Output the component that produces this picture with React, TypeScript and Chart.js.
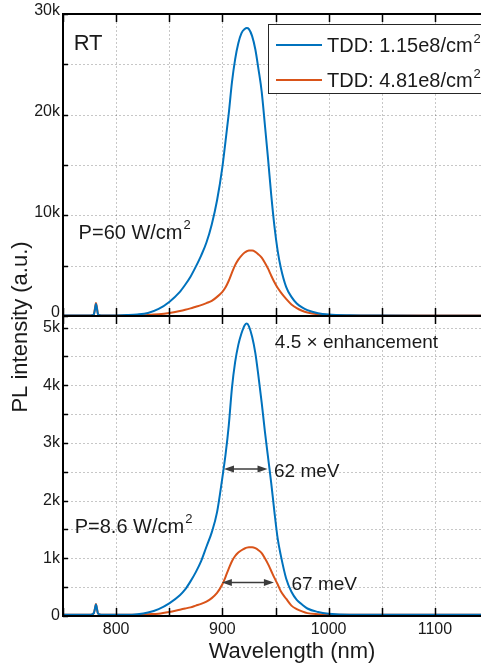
import React, { useEffect, useRef } from 'react';
import { Chart, registerables } from 'chart.js';

Chart.register(...registerables);

// ---------- data (intensity in thousands of counts) ----------
const wavelength = [
  750, 760, 770, 776, 779, 780, 781, 782, 783, 786,
  790, 800, 810, 820, 830, 840, 850, 860, 865, 870,
  875, 880, 885, 890, 895, 900, 903, 906, 909, 912,
  915, 918, 921, 923, 925, 928, 931, 934, 937, 940,
  943, 946, 949, 952, 955, 960, 965, 970, 975, 980,
  990, 1000, 1020, 1050, 1100, 1150,
];

// Top panel, P = 60 W/cm^2
const topBlue = [
  0.04, 0.04, 0.04, 0.04, 0.15, 0.6, 1.2, 0.7, 0.15, 0.05,
  0.05, 0.06, 0.09, 0.15, 0.3, 0.7, 1.4, 2.4, 3.1, 3.9,
  4.9, 6.0, 7.3, 9.1, 11.5, 14.8, 17.4, 20.1, 23.2, 25.5,
  27.1, 28.1, 28.5, 28.6, 28.5, 27.8, 26.5, 24.5, 22.3, 19.0,
  15.6, 12.0, 8.9, 6.5, 4.8, 2.9, 1.9, 1.25, 0.85, 0.58,
  0.28, 0.15, 0.07, 0.04, 0.03, 0.03,
];
const topOrange = [
  0.04, 0.04, 0.04, 0.05, 0.15, 0.7, 1.3, 0.8, 0.15, 0.05,
  0.04, 0.04, 0.05, 0.07, 0.1, 0.17, 0.3, 0.5, 0.62, 0.76,
  0.92, 1.08, 1.28, 1.5, 1.9, 2.4, 2.85, 3.5, 4.3, 5.05,
  5.6, 6.0, 6.3, 6.43, 6.5, 6.5, 6.38, 6.12, 5.8, 5.3,
  4.7, 4.0, 3.35, 2.8, 2.35, 1.7, 1.15, 0.78, 0.52, 0.35,
  0.17, 0.1, 0.05, 0.04, 0.04, 0.04,
];

// Bottom panel, P = 8.6 W/cm^2
const bottomBlue = [
  0.02, 0.02, 0.02, 0.02, 0.05, 0.12, 0.2, 0.12, 0.04, 0.02,
  0.02, 0.02, 0.02, 0.03, 0.06, 0.12, 0.22, 0.36, 0.46, 0.6,
  0.76, 0.95, 1.2, 1.45, 1.8, 2.4, 2.8, 3.3, 3.95, 4.4,
  4.7, 4.9, 5.04, 5.07, 5.02, 4.84, 4.56, 4.15, 3.7, 3.2,
  2.75, 2.3, 1.8, 1.35, 1.05, 0.65, 0.42, 0.28, 0.2, 0.13,
  0.07, 0.04, 0.02, 0.02, 0.02, 0.02,
];
const bottomOrange = [
  0.02, 0.02, 0.02, 0.02, 0.05, 0.12, 0.21, 0.12, 0.04, 0.02,
  0.02, 0.02, 0.02, 0.02, 0.03, 0.04, 0.07, 0.11, 0.13, 0.15,
  0.18, 0.21, 0.25, 0.31, 0.4, 0.55, 0.68, 0.82, 0.95, 1.04,
  1.1, 1.14, 1.17, 1.185, 1.19, 1.19, 1.175, 1.14, 1.09, 1.0,
  0.9, 0.78, 0.66, 0.55, 0.43, 0.3, 0.18, 0.12, 0.08, 0.05,
  0.03, 0.02, 0.02, 0.02, 0.02, 0.02,
];

const seriesLabels = ['TDD: 1.15e8/cm', 'TDD: 4.81e8/cm'];
const xTickLabels = [800, 900, 1000, 1100];
const topTickLabels = [0, 10, 20, 30];
const bottomTickLabels = [0, 1, 2, 3, 4, 5];

// FWHM markers (nm) and their heights (k) in the bottom panel
const fwhmBlue = [901.5, 942.5, 2.55];
const fwhmOrange = [899.5, 948.5, 0.58];

const BLUE = '#0072BD';
const ORANGE = '#D95319';
const TEXT = '#1a1a1a';
const FONT = '"Liberation Sans", Arial, Helvetica, sans-serif';

const pts = (ys: number[]) => wavelength.map((x, i) => ({ x, y: ys[i] }));

function textSup(ctx: CanvasRenderingContext2D, x: number, yc: number, main: string, sup: string, size: number) {
  ctx.font = `${size}px ${FONT}`;
  ctx.textAlign = 'left';
  ctx.textBaseline = 'alphabetic';
  const base = yc + 0.36 * size;
  ctx.fillText(main, x, base);
  if (sup) {
    const w = ctx.measureText(main).width;
    ctx.font = `${Math.round(size * 0.65)}px ${FONT}`;
    ctx.fillText(sup, x + w + 1, base - size * 0.47);
  }
}

function arrow(ctx: CanvasRenderingContext2D, x1: number, x2: number, y: number) {
  ctx.save();
  ctx.strokeStyle = '#3c3c3c';
  ctx.fillStyle = '#3c3c3c';
  ctx.lineWidth = 1.5;
  ctx.beginPath();
  ctx.moveTo(x1 + 4, y);
  ctx.lineTo(x2 - 4, y);
  ctx.stroke();
  ctx.beginPath();
  ctx.moveTo(x1, y);
  ctx.lineTo(x1 + 10, y - 3.5);
  ctx.lineTo(x1 + 10, y + 3.5);
  ctx.closePath();
  ctx.moveTo(x2, y);
  ctx.lineTo(x2 - 10, y - 3.5);
  ctx.lineTo(x2 - 10, y + 3.5);
  ctx.closePath();
  ctx.fill();
  ctx.restore();
}

const decor = {
  id: 'decor',
  beforeDatasetsDraw(chart: any) {
    const { ctx, chartArea: ca, scales } = chart;
    const xs = scales.x, yT = scales.yT, yB = scales.yB;
    ctx.save();
    ctx.strokeStyle = 'rgba(0,0,0,0.22)';
    ctx.lineWidth = 1;
    ctx.setLineDash([2, 2]);
    ctx.beginPath();
    for (const t of xs.ticks) {
      const px = Math.round(xs.getPixelForValue(t.value)) + 0.5;
      ctx.moveTo(px, ca.top);
      ctx.lineTo(px, ca.bottom);
    }
    for (const s of [yT, yB]) {
      for (const t of s.ticks) {
        const py = Math.round(s.getPixelForValue(t.value)) + 0.5;
        ctx.moveTo(ca.left, py);
        ctx.lineTo(ca.right, py);
      }
    }
    ctx.stroke();
    ctx.restore();
  },
  afterDraw(chart: any) {
    const { ctx, chartArea: ca, scales } = chart;
    const xs = scales.x, yT = scales.yT, yB = scales.yB;
    ctx.save();

    // inward tick marks
    ctx.strokeStyle = '#000';
    ctx.lineWidth = 1.5;
    ctx.beginPath();
    for (const t of xs.ticks) {
      const px = Math.round(xs.getPixelForValue(t.value)) + 0.5;
      const edges: [number, number][] = [[yT.top, 1], [yT.bottom, -1], [yB.top, 1], [yB.bottom, -1]];
      for (const [y0, d] of edges) {
        ctx.moveTo(px, y0);
        ctx.lineTo(px, y0 + d * 8);
      }
    }
    for (const s of [yT, yB]) {
      for (const t of s.ticks) {
        const py = Math.round(s.getPixelForValue(t.value)) + 0.5;
        ctx.moveTo(ca.left, py);
        ctx.lineTo(ca.left + 5, py);
        ctx.moveTo(ca.right, py);
        ctx.lineTo(ca.right - 5, py);
      }
    }
    ctx.stroke();

    // frames
    ctx.lineWidth = 2;
    ctx.beginPath();
    for (const y of [yT.top, yT.bottom, yB.bottom]) {
      ctx.moveTo(ca.left - 1, y);
      ctx.lineTo(ca.right + 1, y);
    }
    ctx.moveTo(ca.left, yT.top);
    ctx.lineTo(ca.left, yB.bottom);
    ctx.moveTo(ca.right, yT.top);
    ctx.lineTo(ca.right, yB.bottom);
    ctx.stroke();

    // annotations
    ctx.fillStyle = TEXT;
    textSup(ctx, xs.getPixelForValue(760), yT.getPixelForValue(27.2), 'RT', '', 22);
    textSup(ctx, xs.getPixelForValue(764.7), yT.getPixelForValue(8.4), 'P=60 W/cm', '2', 20);
    textSup(ctx, xs.getPixelForValue(761), yB.getPixelForValue(1.57), 'P=8.6 W/cm', '2', 20);
    textSup(ctx, xs.getPixelForValue(949.4), yB.getPixelForValue(4.77), '4.5 \u00d7 enhancement', '', 19);

    arrow(ctx, xs.getPixelForValue(fwhmBlue[0]), xs.getPixelForValue(fwhmBlue[1]), yB.getPixelForValue(fwhmBlue[2]));
    arrow(ctx, xs.getPixelForValue(fwhmOrange[0]), xs.getPixelForValue(fwhmOrange[1]), yB.getPixelForValue(fwhmOrange[2]));
    ctx.fillStyle = TEXT;
    textSup(ctx, xs.getPixelForValue(948.6), yB.getPixelForValue(2.52), '62 meV', '', 19);
    textSup(ctx, xs.getPixelForValue(965.1), yB.getPixelForValue(0.57), '67 meV', '', 19);

    // legend
    const lx = ca.left + 205, ly = yT.top + 10;
    ctx.fillStyle = '#fff';
    ctx.fillRect(lx, ly, 240, 69);
    ctx.strokeStyle = '#262626';
    ctx.lineWidth = 1;
    ctx.strokeRect(lx + 0.5, ly + 0.5, 240, 69);
    const colors = [BLUE, ORANGE];
    seriesLabels.forEach((lab, i) => {
      const yc = ly + 21 + i * 35;
      ctx.strokeStyle = colors[i];
      ctx.lineWidth = 2;
      ctx.beginPath();
      ctx.moveTo(lx + 8, yc);
      ctx.lineTo(lx + 54, yc);
      ctx.stroke();
      ctx.fillStyle = TEXT;
      textSup(ctx, lx + 59, yc, lab, '2', 20);
    });

    // axis titles
    ctx.fillStyle = TEXT;
    ctx.font = `22px ${FONT}`;
    ctx.textAlign = 'center';
    ctx.textBaseline = 'middle';
    ctx.fillText('Wavelength (nm)', 292, 652);
    ctx.save();
    ctx.translate(21, 327);
    ctx.rotate(-Math.PI / 2);
    ctx.fillText('PL intensity (a.u.)', 0, 0);
    ctx.restore();

    ctx.restore();
  },
};

const isInt = (v: number, list: number[]) => list.some((n) => Math.abs(n - v) < 1e-6);

export default function App() {
  const ref = useRef<HTMLCanvasElement | null>(null);

  useEffect(() => {
    if (!ref.current) return;
    const gridCommon = { display: false, drawTicks: false };
    const chart = new Chart(ref.current, {
      type: 'line',
      data: {
        datasets: [
          { label: seriesLabels[0] + '2 (60)', data: pts(topBlue), yAxisID: 'yT', borderColor: BLUE },
          { label: seriesLabels[1] + '2 (60)', data: pts(topOrange), yAxisID: 'yT', borderColor: ORANGE },
          { label: seriesLabels[0] + '2 (8.6)', data: pts(bottomBlue), yAxisID: 'yB', borderColor: BLUE },
          { label: seriesLabels[1] + '2 (8.6)', data: pts(bottomOrange), yAxisID: 'yB', borderColor: ORANGE },
        ].map((d) => ({
          ...d,
          borderWidth: 2,
          pointRadius: 0,
          fill: false,
          cubicInterpolationMode: 'monotone' as const,
        })),
      },
      options: {
        responsive: false,
        animation: false,
        events: [],
        layout: { padding: { top: 14, left: 0, right: 3, bottom: 0 } },
        plugins: { legend: { display: false }, tooltip: { enabled: false } },
        scales: {
          x: {
            type: 'linear',
            min: 750,
            max: 1150,
            grid: gridCommon,
            border: { display: false },
            afterFit: (s: any) => { s.height = 53; },
            ticks: {
              stepSize: 50,
              autoSkip: false,
              maxRotation: 0,
              padding: 4,
              color: TEXT,
              font: { family: FONT, size: 16 },
              callback: (v: any) => (isInt(Number(v), xTickLabels) ? String(v) : ''),
            },
          },
          yB: {
            type: 'linear',
            position: 'left',
            stack: 'panels',
            stackWeight: 300,
            weight: 0,
            min: 0,
            max: 5.2,
            grid: gridCommon,
            border: { display: false },
            afterFit: (s: any) => { s.width = 63; },
            ticks: {
              stepSize: 0.5,
              includeBounds: false,
              autoSkip: false,
              padding: 3,
              color: TEXT,
              font: { family: FONT, size: 16 },
              callback: (v: any) => {
                const n = Number(v);
                if (!isInt(n, bottomTickLabels)) return '';
                const r = Math.round(n);
                return r === 0 ? '0' : r + 'k';
              },
            },
          },
          yT: {
            type: 'linear',
            position: 'left',
            stack: 'panels',
            stackWeight: 302,
            weight: 1,
            min: 0,
            max: 30,
            grid: gridCommon,
            border: { display: false },
            afterFit: (s: any) => { s.width = 63; },
            ticks: {
              stepSize: 5,
              autoSkip: false,
              padding: 3,
              labelOffset: -3,
              color: TEXT,
              font: { family: FONT, size: 16 },
              callback: (v: any) => {
                const n = Number(v);
                if (!isInt(n, topTickLabels)) return '';
                const r = Math.round(n);
                return r === 0 ? '0' : r + 'k';
              },
            },
          },
        },
      } as any,
      plugins: [decor],
    });
    return () => chart.destroy();
  }, []);

  return (
    <div
      style={{
        position: 'absolute',
        left: 0,
        top: 0,
        width: 481,
        height: 669,
        overflow: 'hidden',
        background: '#fff',
      }}
    >
      <canvas ref={ref} width={492} height={669} style={{ display: 'block', width: 492, height: 669 }} />
    </div>
  );
}
